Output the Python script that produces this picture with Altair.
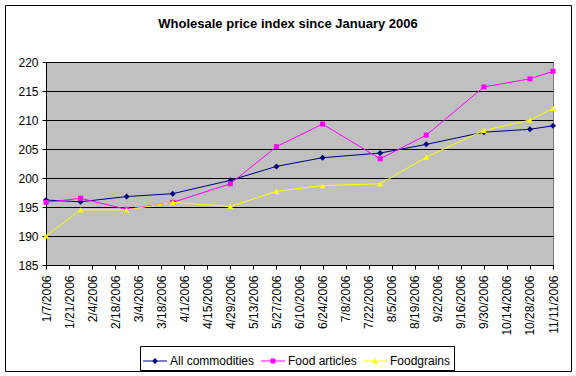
import altair as alt
import pandas as pd

FONT = "Liberation Sans"
title_text = "Wholesale price index since January 2006"

series_names = ["All commodities", "Food articles", "Foodgrains"]
series_colors = ["#000080", "#FF00FF", "#FFFF00"]
series_shapes = ["diamond", "square", "triangle-up"]
series_sizes = [36, 25, 36]
legend_paths = [
    "M-1,-0.042H1V0.042H-1Z M0,-0.25L0.25,0L0,0.25L-0.25,0Z",
    "M-1,-0.042H1V0.042H-1Z M-0.2,-0.2H0.2V0.2H-0.2Z",
    "M-1,-0.042H1V0.042H-1Z M0,-0.22L0.25,0.2H-0.25Z",
]

dates = ["2006/01/07", "2006/01/28", "2006/02/25", "2006/03/25", "2006/04/29", "2006/05/27",
         "2006/06/24", "2006/07/29", "2006/08/26", "2006/09/30", "2006/10/28", "2006/11/11"]
all_commodities = [196.2, 195.9, 196.8, 197.3, 199.6, 202.0, 203.5, 204.3, 205.8, 207.9, 208.4, 209.0]
food_articles = [195.8, 196.5, 194.6, 195.8, 199.0, 205.4, 209.3, 203.3, 207.4, 215.7, 217.1, 218.4]
foodgrains = [190.0, 194.5, 194.5, 195.8, 195.1, 197.7, 198.7, 199.0, 203.6, 208.2, 210.0, 212.0]

tick_dates = [(1, 7), (1, 21), (2, 4), (2, 18), (3, 4), (3, 18), (4, 1), (4, 15), (4, 29),
              (5, 13), (5, 27), (6, 10), (6, 24), (7, 8), (7, 22), (8, 5), (8, 19), (9, 2),
              (9, 16), (9, 30), (10, 14), (10, 28), (11, 11)]
y_ticks = [185, 190, 195, 200, 205, 210, 215, 220]

rows = []
for name, vals in zip(series_names, [all_commodities, food_articles, foodgrains]):
    for d, v in zip(dates, vals):
        rows.append({"date": d, "value": v, "series": name})
df = pd.DataFrame(rows)


def dt(m, d):
    return alt.DateTime(year=2006, month=m, date=d)


x_enc = alt.X(
    "date:T",
    scale=alt.Scale(domain=[dt(*tick_dates[0]), dt(*tick_dates[-1])], nice=False),
    axis=alt.Axis(values=[dt(m, d) for m, d in tick_dates], format="%-m/%-d/%Y",
                  labelAngle=270, labelFlush=False, labelOverlap=False, tickSize=4,
                  labelPadding=6, grid=False, title=None),
)
y_enc = alt.Y(
    "value:Q",
    scale=alt.Scale(domain=[y_ticks[0], y_ticks[-1]], nice=False, zero=False),
    axis=alt.Axis(values=y_ticks, grid=True, gridColor="black", gridOpacity=1,
                  tickSize=4, labelPadding=4, title=None),
)

base = alt.Chart(df)
layers = []
for name, col, shp, sz in zip(series_names, series_colors, series_shapes, series_sizes):
    sub = base.transform_filter(alt.datum.series == name)
    layers.append(sub.mark_line(color=col, strokeWidth=1).encode(x=x_enc, y=y_enc))
    layers.append(sub.mark_point(filled=True, opacity=1, color=col, shape=shp, size=sz)
                  .encode(x=x_enc, y=y_enc))

leg = alt.Legend(title=None, orient="none", legendX=94, legendY=284, direction="horizontal",
                 symbolSize=576, symbolStrokeWidth=0, labelFont=FONT, labelFontSize=12,
                 labelColor="black", labelOffset=3, columnPadding=6, padding=3,
                 strokeColor="black", fillColor="white", cornerRadius=0)

legend_layer = base.transform_filter("false").mark_point(filled=True, opacity=1, size=576).encode(
    x=x_enc, y=y_enc,
    color=alt.Color("series:N", scale=alt.Scale(domain=series_names, range=series_colors), legend=leg),
    shape=alt.Shape("series:N", scale=alt.Scale(domain=series_names, range=legend_paths), legend=leg),
)

one = pd.DataFrame({"k": [0]})
frame = alt.Chart(one).mark_rect(fillOpacity=0, stroke="black", strokeWidth=1).encode(
    x=alt.value(-40.5), x2=alt.value(525.5), y=alt.value(-56.5), y2=alt.value(309.5))
title = alt.Chart(one).mark_text(text=title_text, font=FONT, fontSize=13, fontWeight="bold",
                                 align="center", baseline="alphabetic", color="black").encode(
    x=alt.value(242), y=alt.value(-34))

chart = alt.layer(frame, title, *layers, legend_layer).properties(
    width=507, height=203,
    padding={"left": 46, "top": 62, "right": 23, "bottom": 111},
    autosize=alt.AutoSizeParams(type="none"),
    background="white",
).configure_view(
    fill="#C0C0C0", stroke="#808080", strokeWidth=1
).configure_axis(
    domainColor="black", tickColor="black", labelColor="black",
    labelFont=FONT, labelFontSize=12, domainWidth=1, tickWidth=1,
)

chart.save("out.html", embed_options={"renderer": "svg", "actions": False})
